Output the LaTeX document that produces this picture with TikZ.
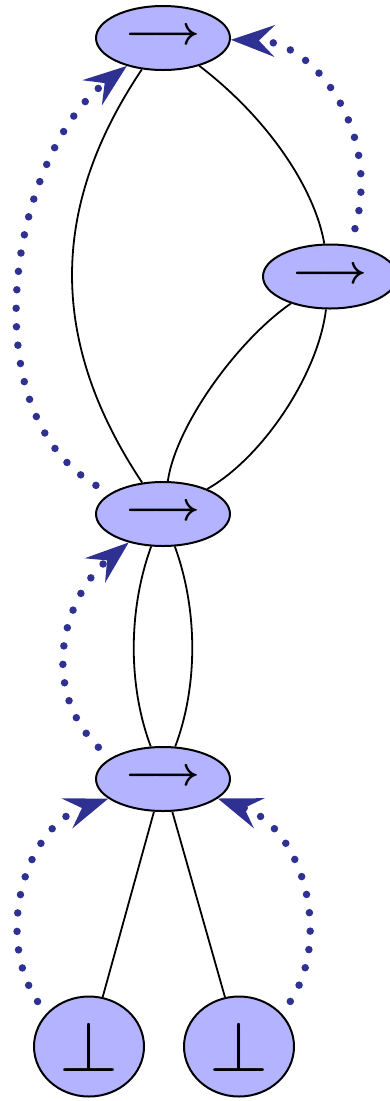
\documentclass[tikz,border=0pt]{standalone}
\usepackage{graphicx}
\usetikzlibrary{arrows.meta,shapes.geometric}
\definecolor{nodefill}{RGB}{179,179,255}
\definecolor{dotblue}{RGB}{46,49,146}
\newcommand{\oparrow}{\resizebox{75pt}{!}{\boldmath$\longrightarrow$}}
\newcommand{\botsym}{\resizebox{59pt}{50pt}{$\perp$}}
\begin{document}
\begin{tikzpicture}[x=1pt,y=-1pt,
  opnode/.style={ellipse,draw=black,line width=2pt,fill=nodefill,minimum width=134pt,minimum height=64pt,inner sep=0pt,text height=24pt,text depth=10.8pt},
  botnode/.style={ellipse,draw=black,line width=2pt,fill=nodefill,minimum width=110pt,minimum height=100pt,inner sep=0pt},
  edgeline/.style={line width=1.8pt,black},
  dotarrow/.style={dotblue,line width=7.5pt,line cap=round,dash pattern=on 0pt off 18.5pt,-{Stealth[length=44pt,width=32pt,inset=16pt,line width=0pt]}}]
\useasboundingbox (0,0) rectangle (390,1101);
\node[opnode] (A) at (163,38) {\oparrow};
\node[opnode] (B) at (330,276.5) {\oparrow};
\node[opnode] (C) at (163,514) {\oparrow};
\node[opnode] (D) at (163,779) {\oparrow};
\node[botnode] (E) at (89,1046.5) {\botsym};
\node[botnode] (F) at (239,1046.5) {\botsym};
\draw[edgeline] (A) .. controls (48.7,208) and (48.7,342) .. (C);
\draw[edgeline] (A) .. controls (270,120) and (315,190) .. (B);
\draw[edgeline] (B) .. controls (238,340) and (176,425) .. (C);
\draw[edgeline] (B) .. controls (318,375) and (262,458) .. (C);
\draw[edgeline] (C) .. controls (128,610) and (128,686) .. (D);
\draw[edgeline] (C) .. controls (198,610) and (198,686) .. (D);
\draw[edgeline] (D) -- (E);
\draw[edgeline] (D) -- (F);
\draw[dotarrow,shorten <=16pt] (C.159) .. controls (-33.5,408.5) and (13,154) .. (A);
\draw[dotarrow,shorten <=17pt] (B.57) .. controls (382,131) and (314,42) .. (A);
\draw[dotarrow,shorten <=16pt] (D.159) .. controls (35.5,684.6) and (67.5,593.25) .. (C);
\draw[dotarrow,shorten <=15pt] (E.143) .. controls (-6.2,935.4) and (25.25,828.35) .. (D);
\draw[dotarrow,shorten <=15pt] (F.37) .. controls (333.2,935.4) and (301.75,828.35) .. (D);
\end{tikzpicture}
\end{document}
